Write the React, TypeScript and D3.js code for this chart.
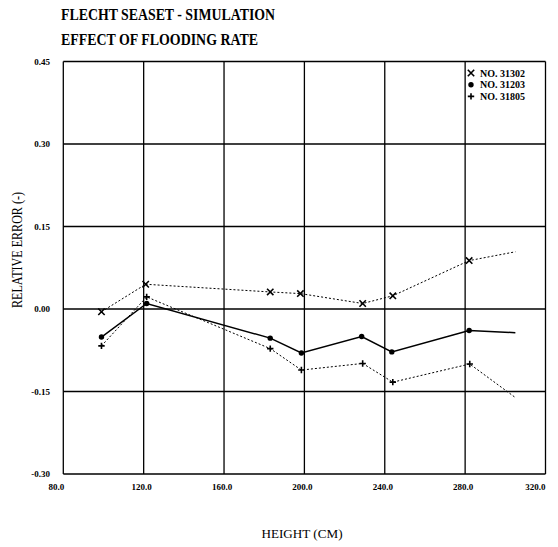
import React from "react";
import * as d3 from "d3";

// Axis ticks
const xTicks = [80, 120, 160, 200, 240, 280, 320];
const yTicks = [-0.3, -0.15, 0.0, 0.15, 0.3, 0.45];

// Run 31302 (dotted line, x markers)
const heights31302 = [99, 121, 183, 198, 229, 244, 282, 305];
const errors31302 = [-0.005, 0.045, 0.031, 0.028, 0.01, 0.024, 0.088, 0.104];

// Run 31203 (solid line, filled markers)
const heights31203 = [99, 121.5, 183, 198.5, 228.5, 243.5, 282, 305];
const errors31203 = [-0.051, 0.01, -0.053, -0.08, -0.05, -0.078, -0.039, -0.043];

// Run 31805 (dotted line, plus markers)
const heights31805 = [99, 121.5, 183, 198.5, 229, 244, 282.3, 305];
const errors31805 = [-0.067, 0.022, -0.072, -0.111, -0.099, -0.133, -0.1, -0.161];

const legendLabels = ["NO. 31302", "NO. 31203", "NO. 31805"];

const W = 558;
const H = 547;
const plot = { left: 63.3, right: 545.5, top: 61.5, bottom: 474 };
const serif = "'Liberation Serif', 'DejaVu Serif', serif";

const x = d3.scaleLinear().domain([80, 320]).range([plot.left, plot.right]);
const y = d3.scaleLinear().domain([-0.3, 0.45]).range([plot.bottom, plot.top]);

type Marker = "cross" | "dot" | "plus";

function MarkerShape({ kind, cx, cy }: { kind: Marker; cx: number; cy: number }) {
  const s = 3.2;
  if (kind === "cross") {
    return (
      <path
        d={`M${cx - s},${cy - s}L${cx + s},${cy + s}M${cx - s},${cy + s}L${cx + s},${cy - s}`}
        stroke="#000"
        strokeWidth={1.6}
        fill="none"
      />
    );
  }
  if (kind === "plus") {
    return (
      <path
        d={`M${cx - s},${cy}L${cx + s},${cy}M${cx},${cy - s}L${cx},${cy + s}`}
        stroke="#000"
        strokeWidth={1.6}
        fill="none"
      />
    );
  }
  return <circle cx={cx} cy={cy} r={2.7} fill="#000" />;
}

function Series({
  xs,
  ys,
  dash,
  width,
  marker,
}: {
  xs: number[];
  ys: number[];
  dash?: string;
  width: number;
  marker: Marker;
}) {
  const pts: [number, number][] = xs.map((h, i) => [h, ys[i]]);
  const line = d3
    .line<[number, number]>()
    .x((d) => x(d[0]))
    .y((d) => y(d[1]));
  return (
    <g>
      <path d={line(pts) || ""} fill="none" stroke="#000" strokeWidth={width} strokeDasharray={dash} />
      {pts.slice(0, -1).map((d, i) => (
        <MarkerShape key={i} kind={marker} cx={x(d[0])} cy={y(d[1])} />
      ))}
    </g>
  );
}

export default function App() {
  const markers: Marker[] = ["cross", "dot", "plus"];
  return (
    <svg
      width={W}
      height={H}
      style={{ position: "absolute", left: 0, top: 0, background: "#fff" }}
      fontFamily={serif}
    >
      <rect width={W} height={H} fill="#fff" />

      {/* Title */}
      <text x={61} y={20} fontSize={16} fontWeight="bold" textLength={214} lengthAdjust="spacingAndGlyphs">
        FLECHT SEASET - SIMULATION
      </text>
      <text x={61} y={45} fontSize={16} fontWeight="bold" textLength={197} lengthAdjust="spacingAndGlyphs">
        EFFECT OF FLOODING RATE
      </text>

      {/* Grid */}
      {xTicks.map((t) => (
        <line key={"gx" + t} x1={x(t)} x2={x(t)} y1={plot.top} y2={plot.bottom} stroke="#000" strokeWidth={1.3} />
      ))}
      {yTicks.map((t) => (
        <line key={"gy" + t} x1={plot.left} x2={plot.right} y1={y(t)} y2={y(t)} stroke="#000" strokeWidth={1.3} />
      ))}

      {/* Y tick labels */}
      {yTicks.map((t) => (
        <text key={"ly" + t} x={50} y={y(t) + 3} fontSize={9} fontWeight="bold" textAnchor="end">
          {t.toFixed(2)}
        </text>
      ))}

      {/* X tick labels */}
      {xTicks.map((t, i) => {
        const last = i === xTicks.length - 1;
        const first = i === 0;
        return (
          <text
            key={"lx" + t}
            x={first ? x(t) - 7 : last ? x(t) : x(t) - 2}
            y={490}
            fontSize={9}
            fontWeight="bold"
            textAnchor={last ? "end" : "middle"}
          >
            {t.toFixed(1)}
          </text>
        );
      })}

      {/* Axis titles */}
      <text x={302} y={538} fontSize={13} textAnchor="middle" textLength={81} lengthAdjust="spacingAndGlyphs">
        HEIGHT (CM)
      </text>
      <text
        transform={`translate(22,250) rotate(-90)`}
        fontSize={14}
        textAnchor="middle"
        textLength={116}
        lengthAdjust="spacingAndGlyphs"
      >
        RELATIVE ERROR (-)
      </text>

      {/* Data */}
      <Series xs={heights31302} ys={errors31302} dash="2,2" width={1} marker="cross" />
      <Series xs={heights31203} ys={errors31203} width={1.5} marker="dot" />
      <Series xs={heights31805} ys={errors31805} dash="2,2" width={1} marker="plus" />

      {/* Legend */}
      {legendLabels.map((lab, i) => {
        const ly = 73 + i * 11.7;
        return (
          <g key={lab}>
            <MarkerShape kind={markers[i]} cx={471} cy={ly} />
            <text x={480} y={ly + 3.5} fontSize={10} fontWeight="bold" textLength={45} lengthAdjust="spacingAndGlyphs">
              {lab}
            </text>
          </g>
        );
      })}
    </svg>
  );
}
